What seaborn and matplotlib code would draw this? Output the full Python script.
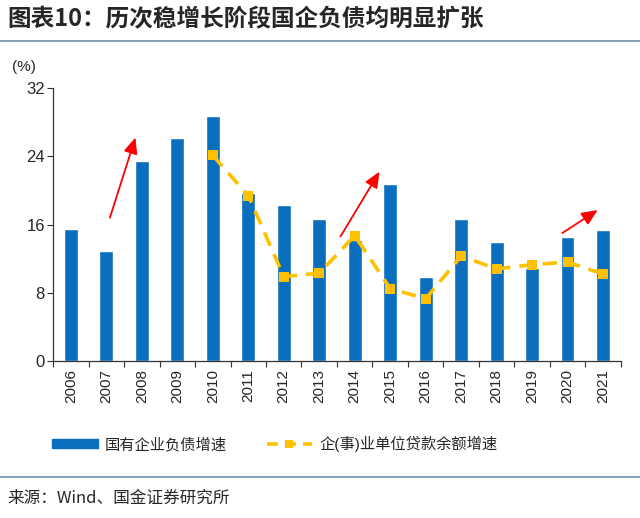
import matplotlib
matplotlib.use("Agg")
import matplotlib.pyplot as plt
from matplotlib.lines import Line2D
from matplotlib.patches import Patch
from matplotlib.ticker import FixedLocator
import numpy as np
import pandas as pd
import seaborn as sns

years = [str(y) for y in range(2006, 2022)]
soe_debt = [15.5, 12.9, 23.5, 26.1, 28.7, 19.7, 18.3, 16.7,
            14.2, 20.7, 9.8, 16.7, 14.0, 10.9, 14.5, 15.4]
loan_years = [str(y) for y in range(2010, 2022)]
corp_loans = [24.1, 19.4, 9.9, 10.3, 14.7, 8.5, 7.3, 12.3, 10.8, 11.3, 11.6, 10.2]
yticks = [0, 8, 16, 24, 32]
# red arrows: (x0, y0, x1, y1) in category/value units
arrows = [(1.1, 16.8, 1.82, 26.2), (7.6, 14.6, 8.7, 22.2), (13.85, 15.0, 14.85, 17.7)]

BLUE = "#0A6EBD"
GOLD = "#FFC000"

sns.set_theme(style="white")
plt.rcParams["font.family"] = ["Liberation Sans", "Noto Sans CJK SC"]

bars = pd.DataFrame({"year": years, "debt": soe_debt})
loans = pd.DataFrame({"pos": [years.index(y) for y in loan_years], "loan": corp_loans})

fig = plt.figure(figsize=(6.4, 5.18), dpi=100)
ax = fig.add_axes([0.083, 0.303, 0.887, 0.527])

sns.barplot(data=bars, x="year", y="debt", color=BLUE, saturation=1, width=0.39, ax=ax)
sns.lineplot(data=loans, x="pos", y="loan", color=GOLD, lw=2.6, ax=ax,
             marker="s", markersize=7, markeredgewidth=0)
ax.lines[-1].set_dashes([4, 2.5])

for x0, y0, x1, y1 in arrows:
    ax.annotate("", xy=(x1, y1), xytext=(x0, y0),
                arrowprops=dict(arrowstyle="-|>,head_length=0.8,head_width=0.35",
                                color="#FF0000", lw=1.3, shrinkA=0, shrinkB=0))

ax.set_xlim(-0.5, len(years) - 0.5)
ax.set_ylim(0, 32)
ax.set_yticks(yticks)
ax.set_xlabel("")
ax.set_ylabel("")
ax.tick_params(axis="y", labelsize=12, length=4, width=0.8, direction="out",
               left=True, color="#333333", pad=2)
ax.tick_params(axis="x", which="major", labelsize=11, length=0, rotation=90, pad=6)
ax.xaxis.set_minor_locator(FixedLocator(np.arange(-0.5, len(years), 1)))
ax.tick_params(axis="x", which="minor", bottom=True, length=4, width=0.8,
               direction="out", color="#333333")
for s in ["top", "right"]:
    ax.spines[s].set_visible(False)
for s in ["left", "bottom"]:
    ax.spines[s].set_color("#333333")
    ax.spines[s].set_linewidth(0.9)
ax.grid(False)

fig.text(0.018, 0.862, "(%)", fontsize=11)

handles = [Patch(color=BLUE),
           Line2D([0], [0], color=GOLD, lw=2.6, dashes=[3, 2], marker="s",
                  markersize=6, markeredgewidth=0)]
fig.legend(handles, ["国有企业负债增速", "企(事)业单位贷款余额增速"],
           loc="center left", bbox_to_anchor=(0.06, 0.143), ncol=2, frameon=False,
           fontsize=11, handlelength=3.0, handleheight=0.6, columnspacing=2.6,
           handletextpad=0.45)

fig.text(0.012, 0.962, "图表10：历次稳增长阶段国企负债均明显扩张", fontsize=17,
         fontweight="bold", family=["Noto Sans CJK SC"], va="center")
fig.add_artist(Line2D([0, 1], [0.921, 0.921], color="#6F8FA8", lw=1.2))
fig.add_artist(Line2D([0, 1], [0.079, 0.079], color="#6F8FA8", lw=1.2))
fig.text(0.012, 0.038, "来源：Wind、国金证券研究所", fontsize=12,
         family=["Noto Sans CJK SC"], va="center")

fig.savefig("out.png", dpi=100)
